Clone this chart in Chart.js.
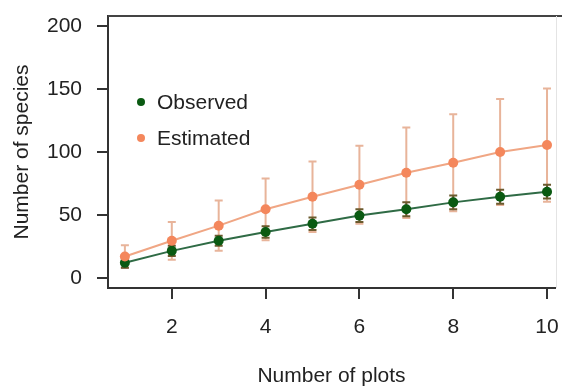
<!DOCTYPE html>
<html>
<head>
<meta charset="utf-8">
<script src="https://cdn.jsdelivr.net/npm/chart.js@4.4.0/dist/chart.umd.min.js"></script>
<style>
  html, body { margin: 0; padding: 0; background: #fff; }
</style>
</head>
<body>
<canvas id="speciesChart" width="562" height="387"></canvas>
<script>
const plots = [1, 2, 3, 4, 5, 6, 7, 8, 9, 10];
const observed = [12, 21.5, 29.5, 36.5, 43, 49.5, 54.5, 60, 64.5, 68.5];
const observedErr = [4, 4, 4, 4.5, 5, 5, 5.5, 5.5, 5.5, 5.5];
const estimated = [17, 29.5, 41.5, 54.5, 64.5, 74, 83.5, 91.5, 100, 105.5];
const estimatedErr = [9, 15, 20, 24.5, 28, 31, 36, 38.5, 42, 45];
const xTicks = [2, 4, 6, 8, 10];
const yTicks = [0, 50, 100, 150, 200];

const FONT = "'Liberation Sans', Arial, sans-serif";

// vertical error bars with small caps, drawn under the points
const errorBars = {
    id: 'errorBars',
    beforeDatasetsDraw(chart) {
        const { ctx, scales: { x, y } } = chart;
        function draw(vals, errs, color) {
            ctx.save();
            ctx.strokeStyle = color;
            ctx.lineWidth = 2;
            vals.forEach((v, i) => {
                const px = x.getPixelForValue(plots[i]);
                const top = y.getPixelForValue(v + errs[i]);
                const bot = y.getPixelForValue(v - errs[i]);
                ctx.beginPath();
                ctx.moveTo(px, top); ctx.lineTo(px, bot);
                ctx.moveTo(px - 4, top); ctx.lineTo(px + 4, top);
                ctx.moveTo(px - 4, bot); ctx.lineTo(px + 4, bot);
                ctx.stroke();
            });
            ctx.restore();
        }
        draw(estimated, estimatedErr, '#e8b49a');
        draw(observed, observedErr, '#6b5a2e');
    }
};

// top and right side of the box, plus the legend inside the plot
const frameAndLegend = {
    id: 'frameAndLegend',
    afterDraw(chart) {
        const { ctx, chartArea: a } = chart;
        ctx.save();
        ctx.strokeStyle = '#444';
        ctx.lineWidth = 2;
        ctx.beginPath();
        ctx.moveTo(a.left, a.top);
        ctx.lineTo(562, a.top);
        ctx.stroke();
        ctx.strokeStyle = '#e4e4e4';
        ctx.lineWidth = 1;
        ctx.beginPath();
        ctx.moveTo(a.right + 1.5, a.top);
        ctx.lineTo(a.right + 1.5, a.bottom);
        ctx.stroke();

        const items = [['Observed', '#0a5a12', 102], ['Estimated', '#f4875c', 138]];
        ctx.font = '21px ' + FONT;
        ctx.textBaseline = 'middle';
        items.forEach(([label, color, yy]) => {
            ctx.fillStyle = color;
            ctx.beginPath();
            ctx.arc(141, yy, 4, 0, Math.PI * 2);
            ctx.fill();
            ctx.fillStyle = '#222';
            ctx.fillText(label, 157, yy + 1);
        });
        ctx.restore();
    }
};

const ctx = document.getElementById('speciesChart').getContext('2d');
new Chart(ctx, {
    type: 'line',
    data: {
        datasets: [{
            label: 'Estimated',
            data: plots.map((p, i) => ({ x: p, y: estimated[i] })),
            borderColor: '#f0a684',
            backgroundColor: '#f4875c',
            borderWidth: 2,
            pointRadius: 5,
            pointBorderWidth: 0,
            tension: 0
        }, {
            label: 'Observed',
            data: plots.map((p, i) => ({ x: p, y: observed[i] })),
            borderColor: '#2f6b45',
            backgroundColor: '#0a5a12',
            borderWidth: 2,
            pointRadius: 5,
            pointBorderWidth: 0,
            tension: 0
        }]
    },
    options: {
        responsive: false,
        animation: false,
        layout: { padding: { top: 16, right: 7, left: 0, bottom: 0 } },
        plugins: { legend: { display: false }, tooltip: { enabled: false } },
        scales: {
            x: {
                type: 'linear',
                min: 0.64,
                max: 10.17,
                afterBuildTicks: s => { s.ticks = xTicks.map(v => ({ value: v })); },
                afterFit: s => { s.height = 99; s.paddingLeft = 0; s.paddingRight = 0; },
                grid: { drawOnChartArea: false, drawTicks: true, tickLength: 11, color: '#333', lineWidth: 2 },
                border: { display: true, color: '#333', width: 2 },
                ticks: { color: '#222', font: { family: FONT, size: 21 }, padding: 16, maxRotation: 0 },
                title: { display: true, text: 'Number of plots', color: '#222',
                         font: { family: FONT, size: 21, lineHeight: 1 }, padding: { top: 0, bottom: 0 } }
            },
            y: {
                min: -8,
                max: 208,
                afterBuildTicks: s => { s.ticks = yTicks.map(v => ({ value: v })); },
                afterFit: s => { s.width = 108; s.paddingTop = 0; s.paddingBottom = 0; },
                grid: { drawOnChartArea: false, drawTicks: true, tickLength: 11, color: '#333', lineWidth: 2 },
                border: { display: true, color: '#333', width: 2 },
                ticks: { color: '#222', font: { family: FONT, size: 21 }, padding: 15 },
                title: { display: true, text: 'Number of species', color: '#222',
                         font: { family: FONT, size: 21, lineHeight: 1 }, padding: { top: 12, bottom: 0 } }
            }
        }
    },
    plugins: [errorBars, frameAndLegend]
});
</script>
</body>
</html>
